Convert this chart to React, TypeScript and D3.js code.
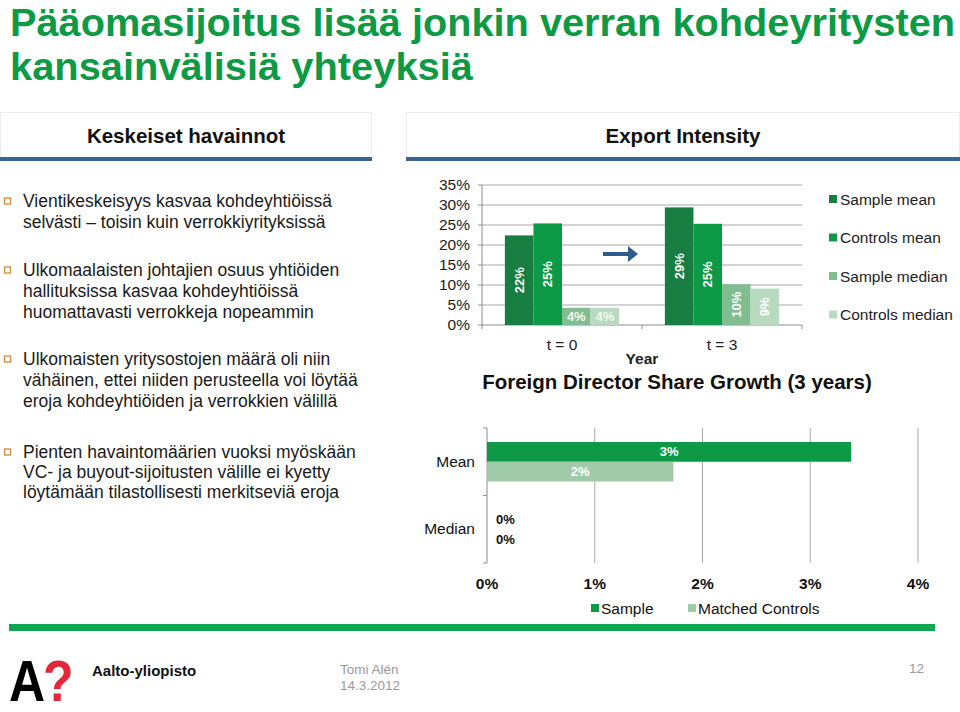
import React from "react";
import * as d3 from "d3";

// ---------- data ----------
const titleLines = ["Pääomasijoitus lisää jonkin verran kohdeyritysten", "kansainvälisiä yhteyksiä"];
const leftHeader = "Keskeiset havainnot";
const rightHeader = "Export Intensity";
const bullets = [
  ["Vientikeskeisyys kasvaa kohdeyhtiöissä", "selvästi – toisin kuin verrokkiyrityksissä"],
  ["Ulkomaalaisten johtajien osuus yhtiöiden", "hallituksissa kasvaa kohdeyhtiöissä", "huomattavasti verrokkeja nopeammin"],
  ["Ulkomaisten yritysostojen määrä oli niin", "vähäinen, ettei niiden perusteella voi löytää", "eroja kohdeyhtiöiden ja verrokkien välillä"],
  ["Pienten havaintomäärien vuoksi myöskään", "VC- ja buyout-sijoitusten välille ei kyetty", "löytämään tilastollisesti merkitseviä eroja"],
];

const topCategories = ["t = 0", "t = 3"];
const topSeries = ["Sample mean", "Controls mean", "Sample median", "Controls median"];
const sampleMean = [22.4, 29.4];
const controlsMean = [25.4, 25.3];
const sampleMedian = [4.3, 10.2];
const controlsMedian = [4.3, 9.1];
const topTicks = [0, 5, 10, 15, 20, 25, 30, 35];
const topXAxisTitle = "Year";
const topChartTitle = "Foreign Director Share Growth (3 years)";

const bottomCategories = ["Mean", "Median"];
const bottomSeries = ["Sample", "Matched Controls"];
const bottomSample = [3.38, 0];
const bottomControls = [1.73, 0];
const bottomTicks = [0, 1, 2, 3, 4];

const footerOrg = "Aalto-yliopisto";
const footerAuthor = "Tomi Alén";
const footerDate = "14.3.2012";
const pageNumber = "12";

// ---------- styles ----------
const FONT = "'Liberation Sans', Arial, Helvetica, sans-serif";
const topColors = ["#177d40", "#0c9a46", "#80bd8f", "#b8dbc0"];
const bottomColors = ["#0c9a46", "#9fcba8"];
const GREEN = "#0e9a44";
const GRID = "#a8a8a8";

const pct = (v: number) => `${Math.round(v)}%`;

function TopChart() {
  const values = [sampleMean, controlsMean, sampleMedian, controlsMedian];
  const y = d3.scaleLinear().domain([0, 35]).range([325, 185]);
  const x0 = d3.scaleBand<string>().domain(topCategories).range([482, 802]);
  const bw = x0.bandwidth();
  const x1 = d3.scaleBand<string>().domain(topSeries).range([bw * 0.143, bw * 0.857]);
  const left = x0.range()[0];
  const right = x0.range()[1];
  return (
    <g>
      {topTicks.map((t) => (
        <g key={t}>
          {t > 0 && <line x1={left} x2={right} y1={y(t)} y2={y(t)} stroke={GRID} strokeWidth={1} />}
          <line x1={left - 4} x2={left} y1={y(t)} y2={y(t)} stroke="#8c8c8c" strokeWidth={1} />
          <text x={470} y={y(t) + 5} textAnchor="end" fontSize={15.5} fill="#222">{pct(t)}</text>
        </g>
      ))}
      <line x1={left} x2={left} y1={y(35)} y2={y(0)} stroke="#8c8c8c" />
      <line x1={left} x2={right} y1={y(0)} y2={y(0)} stroke="#8c8c8c" />
      {[left, left + bw, right].map((xx, i) => (
        <line key={i} x1={xx} x2={xx} y1={y(0)} y2={y(0) + 4} stroke="#8c8c8c" />
      ))}
      {topCategories.map((c, ci) => (
        <g key={c}>
          {topSeries.map((s, si) => {
            const v = values[si][ci];
            const bx = (x0(c) as number) + (x1(s) as number);
            const w = x1.bandwidth();
            const top = y(v);
            const h = y(0) - top;
            const cx = bx + w / 2;
            const cy = top + h / 2;
            const rotate = h > 30;
            return (
              <g key={s}>
                <rect x={bx} y={top} width={w} height={h} fill={topColors[si]} />
                {rotate ? (
                  <text transform={`translate(${cx},${cy}) rotate(-90)`} textAnchor="middle" dy={4.5} fontSize={13} fontWeight="bold" fill="#fff">{pct(v)}</text>
                ) : (
                  <text x={cx} y={cy + 5} textAnchor="middle" fontSize={13} fontWeight="bold" fill="#f4f8f4">{pct(v)}</text>
                )}
              </g>
            );
          })}
          <text x={(x0(c) as number) + bw / 2} y={350} textAnchor="middle" fontSize={15.5} fill="#222">{c}</text>
        </g>
      ))}
      <text x={left + bw} y={364} textAnchor="middle" fontSize={15.5} fontWeight="bold" fill="#222">{topXAxisTitle}</text>
      <text x={677} y={389} textAnchor="middle" fontSize={20.5} fontWeight="bold" fill="#111">{topChartTitle}</text>
      {/* arrow */}
      <path d="M603,252 L628,252 L628,246 L638,254 L628,262 L628,256 L603,256 Z" fill="#2f5b8e" />
      {/* legend */}
      {topSeries.map((s, i) => (
        <g key={s}>
          <rect x={829} y={195 + i * 38.5} width={8} height={8} fill={topColors[i]} />
          <text x={840} y={204.5 + i * 38.5} fontSize={15.5} fill="#222">{s}</text>
        </g>
      ))}
    </g>
  );
}

function BottomChart() {
  const values = [bottomSample, bottomControls];
  const x = d3.scaleLinear().domain([0, 4]).range([487, 918]);
  const y0 = d3.scaleBand<string>().domain(bottomCategories).range([428, 563]);
  const bh = y0.bandwidth();
  const y1 = d3.scaleBand<string>().domain(bottomSeries).range([bh * 0.207, bh * 0.793]);
  return (
    <g>
      {bottomTicks.map((t) => (
        <g key={t}>
          {t > 0 && <line x1={x(t)} x2={x(t)} y1={428} y2={563} stroke={GRID} />}
          <text x={x(t)} y={589} textAnchor="middle" fontSize={15.5} fontWeight="bold" fill="#111">{pct(t)}</text>
        </g>
      ))}
      <line x1={x(0)} x2={x(0)} y1={428} y2={563} stroke="#8c8c8c" />
      {[428, 428 + bh, 563].map((yy, i) => (
        <line key={i} x1={x(0) - 4} x2={x(0)} y1={yy} y2={yy} stroke="#8c8c8c" />
      ))}
      {bottomCategories.map((c, ci) => (
        <g key={c}>
          <text x={475} y={(y0(c) as number) + bh / 2 + 5} textAnchor="end" fontSize={15.5} fill="#111">{c}</text>
          {bottomSeries.map((s, si) => {
            const v = values[si][ci];
            const by = (y0(c) as number) + (y1(s) as number);
            const h = y1.bandwidth();
            const w = x(v) - x(0);
            return (
              <g key={s}>
                {w > 0 && <rect x={x(0)} y={by} width={w} height={h} fill={bottomColors[si]} />}
                {w > 0 ? (
                  <text x={x(0) + w / 2} y={by + h / 2 + 4.5} textAnchor="middle" fontSize={13} fontWeight="bold" fill="#fff">{pct(v)}</text>
                ) : (
                  <text x={x(0) + 9} y={by + h / 2 + 4.5} fontSize={13} fontWeight="bold" fill="#111">{pct(v)}</text>
                )}
              </g>
            );
          })}
        </g>
      ))}
      {/* legend */}
      <rect x={591} y={604} width={8} height={8} fill={bottomColors[0]} />
      <text x={601} y={613.5} fontSize={15.5} fill="#111">{bottomSeries[0]}</text>
      <rect x={688} y={604} width={8} height={8} fill={bottomColors[1]} />
      <text x={698} y={613.5} fontSize={15.5} fill="#111">{bottomSeries[1]}</text>
    </g>
  );
}

export default function App() {
  const bulletStarts = [201, 270, 359, 452];
  const lineGap = [21, 21, 21, 20];
  return (
    <svg width={960} height={712} viewBox="0 0 960 712" style={{ position: "absolute", left: 0, top: 0, background: "#fff" }} fontFamily={FONT}>
      <rect x={0} y={0} width={960} height={712} fill="#fff" />
      {/* title */}
      <text x={10} y={36} fontSize={39} fontWeight="bold" fill={GREEN} textLength={945} lengthAdjust="spacingAndGlyphs">{titleLines[0]}</text>
      <text x={10} y={80} fontSize={39} fontWeight="bold" fill={GREEN} textLength={463} lengthAdjust="spacingAndGlyphs">{titleLines[1]}</text>

      {/* header boxes */}
      <rect x={0.5} y={112.5} width={371} height={46} fill="#fff" stroke="#ececec" />
      <rect x={0} y={157} width={372} height={4} fill="#3d6390" />
      <text x={186} y={143} textAnchor="middle" fontSize={20.5} fontWeight="bold" fill="#111">{leftHeader}</text>
      <rect x={406.5} y={112.5} width={553} height={46} fill="#fff" stroke="#ececec" />
      <rect x={406} y={157} width={554} height={4} fill="#3d6390" />
      <text x={683} y={143} textAnchor="middle" fontSize={20.5} fontWeight="bold" fill="#111">{rightHeader}</text>

      {/* bullets */}
      {bullets.map((lines, bi) => (
        <g key={bi}>
          <rect x={4.5} y={bulletStarts[bi] - 3} width={6} height={6} fill="none" stroke="#d48a3c" strokeWidth={1.3} />
          {lines.map((ln, li) => (
            <text key={li} x={23} y={bulletStarts[bi] + li * lineGap[bi] + 6} fontSize={17.5} fill="#1a1a1a">{ln}</text>
          ))}
        </g>
      ))}

      <TopChart />
      <BottomChart />

      {/* green separator */}
      <rect x={9} y={624} width={926} height={7} fill="#10a64f" />

      {/* footer */}
      <g transform="translate(9,701) scale(1,1.15)">
        <text x={0} y={0} fontSize={50} fontWeight="bold" fill="#000">
          <tspan>A</tspan><tspan fill="#e3263a" dx={-2}>?</tspan>
        </text>
      </g>
      <text x={92} y={676} fontSize={15} fontWeight="bold" fill="#111">{footerOrg}</text>
      <text x={340} y={674} fontSize={13.5} fill="#9a9a9a">{footerAuthor}</text>
      <text x={340} y={690} fontSize={13.5} fill="#9a9a9a">{footerDate}</text>
      <text x={924} y={673} textAnchor="end" fontSize={13.5} fill="#9a9a9a">{pageNumber}</text>
    </svg>
  );
}
